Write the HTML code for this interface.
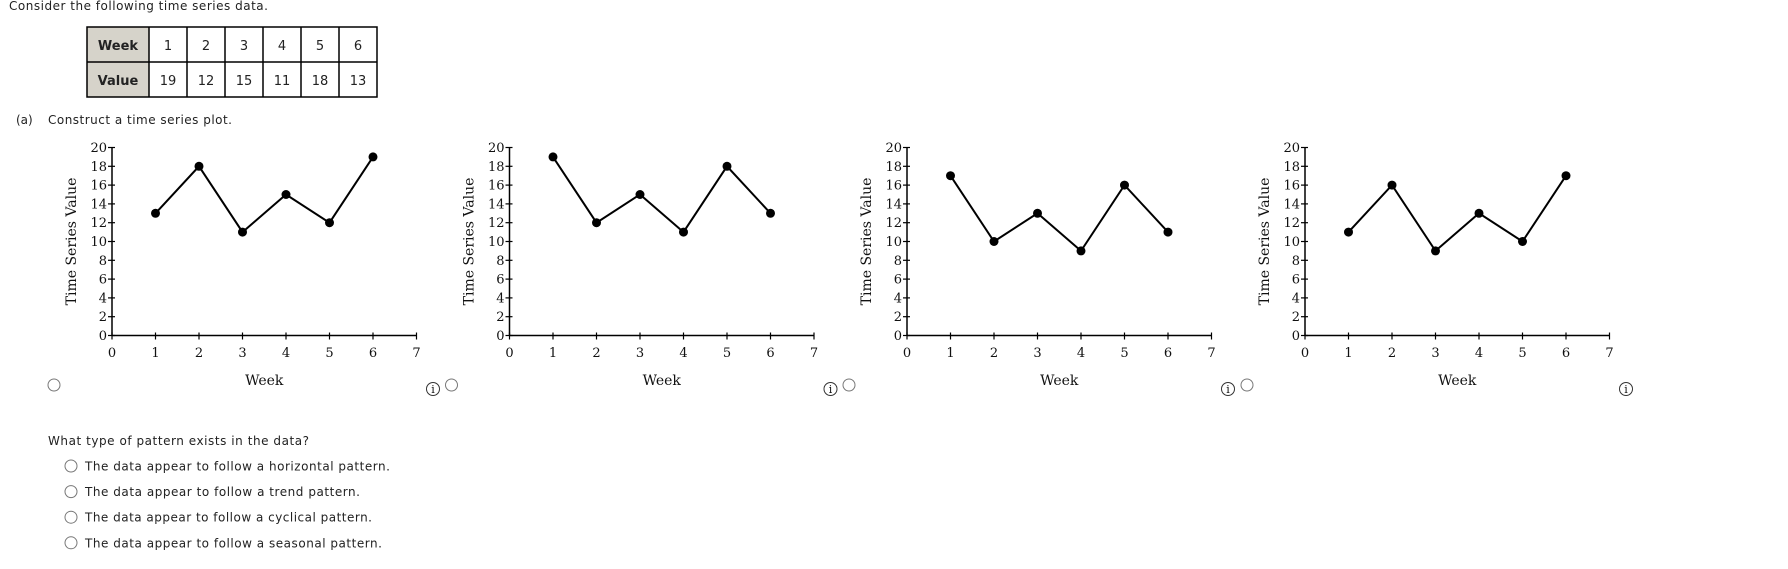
<!DOCTYPE html>
<html><head><meta charset="utf-8"><style>
html,body{margin:0;padding:0;background:#fff;}
svg{display:block}
.s{font-family:"DejaVu Sans","Liberation Sans",sans-serif;font-size:12px;fill:#222}
.t{font-family:"DejaVu Sans","Liberation Sans",sans-serif;font-size:13px;fill:#222}
.r{font-family:"DejaVu Serif","Liberation Serif",serif;fill:#111}
</style></head><body>
<svg id="svg" width="1788" height="569" viewBox="0 0 1788 569" xmlns="http://www.w3.org/2000/svg">
<text class="s" x="9" y="10" textLength="259">Consider the following time series data.</text>
<g>
<rect x="87" y="27" width="62" height="70" fill="#d6d3ca"/>
<rect x="87" y="27" width="290" height="70" fill="none" stroke="#000" stroke-width="1.5"/>
<line x1="87" y1="62" x2="377" y2="62" stroke="#000" stroke-width="1.5"/>
<g id="tcols"></g>
<text class="t" x="118" y="50" text-anchor="middle" font-weight="bold" fill="#444">Week</text>
<text class="t" x="118" y="85" text-anchor="middle" font-weight="bold" fill="#444">Value</text>
</g>
<text class="s" x="16" y="124">(a)</text>
<text class="s" x="48" y="124" textLength="184">Construct a time series plot.</text>
<g id="charts"></g>
<text class="s" x="48" y="445" textLength="261">What type of pattern exists in the data?</text>
<g id="opts"></g>
</svg>
<script>
const weeks=[1,2,3,4,5,6];
const values=[19,12,15,11,18,13];
const series1=[13,18,11,15,12,19];
const series2=[19,12,15,11,18,13];
const series3=[17,10,13,9,16,11];
const series4=[11,16,9,13,10,17];
const yTicks=[0,2,4,6,8,10,12,14,16,18,20];
const xTicks=[0,1,2,3,4,5,6,7];
const options=["The data appear to follow a horizontal pattern.","The data appear to follow a trend pattern.","The data appear to follow a cyclical pattern.","The data appear to follow a seasonal pattern."];
const optionWidths=[305,275,287,297];
const NS="http://www.w3.org/2000/svg";
function mk(tag,attrs,parent,txt){const e=document.createElementNS(NS,tag);for(const k in attrs)e.setAttribute(k,attrs[k]);if(txt!==undefined)e.textContent=txt;parent.appendChild(e);return e;}
const tc=document.getElementById('tcols');
weeks.forEach((w,i)=>{const x=149+i*38;
 mk('line',{x1:x,y1:27,x2:x,y2:97,stroke:'#000','stroke-width':1.5},tc);
 const a=mk('text',{x:x+19,y:50,'text-anchor':'middle',class:'t'},tc,String(w));
 
 
 const b=mk('text',{x:x+19,y:85,'text-anchor':'middle',class:'t'},tc,String(values[i]));
 
 
});
const cg=document.getElementById('charts');
const allSeries=[series1,series2,series3,series4];
const X0=[112,509.5,907,1305];
const yB=335.5,yT=147.5,ux=43.5;
allSeries.forEach((s,ci)=>{
 const x0=X0[ci];
 const g=mk('g',{},cg);
 
 
 const xs=v=>x0+v*ux, ys=v=>yB-(yB-yT)*v/20;
 mk('line',{x1:x0,y1:yB,x2:xs(7),y2:yB,stroke:'#000','stroke-width':1.5},g);
 mk('line',{x1:x0,y1:yB,x2:x0,y2:yT,stroke:'#000','stroke-width':1.5},g);
 yTicks.forEach(t=>{mk('line',{x1:x0-4,y1:ys(t),x2:x0+3,y2:ys(t),stroke:'#000','stroke-width':1.2},g);
  mk('text',{x:x0-5,y:ys(t)+4.5,'text-anchor':'end',class:'r','font-size':13},g,String(t));});
 xTicks.forEach(t=>{mk('line',{x1:xs(t),y1:yB-3,x2:xs(t),y2:yB+4,stroke:'#000','stroke-width':1.2},g);
  mk('text',{x:xs(t),y:357,'text-anchor':'middle',class:'r','font-size':13},g,String(t));});
 mk('text',{x:xs(3.5),y:385,'text-anchor':'middle',class:'r','font-size':14},g,'Week');
 mk('text',{x:0,y:0,transform:`translate(${x0-36},${(yB+yT)/2}) rotate(-90)`,'text-anchor':'middle',class:'r','font-size':14},g,'Time Series Value');
 const pts=s.map((v,i)=>xs(weeks[i])+','+ys(v)).join(' ');
 const pl=mk('polyline',{points:pts,fill:'none',stroke:'#000','stroke-width':2},g);
 
 
 s.forEach((v,i)=>{const c=mk('circle',{cx:xs(weeks[i]),cy:ys(v),r:4.5,fill:'#000'},g);
  
  });
 const rd=mk('circle',{cx:x0-58,cy:385,r:6,fill:'#fff',stroke:'#777','stroke-width':1},cg);
 
 
 const ig=mk('g',{},cg);
 
 
 mk('circle',{cx:x0+321,cy:389,r:6.5,fill:'none',stroke:'#333','stroke-width':1},ig);
 mk('text',{x:x0+321,y:393,'text-anchor':'middle',class:'r','font-size':11},ig,'i');
});
const og=document.getElementById('opts');
options.forEach((o,i)=>{const y=466+i*25.6;
 const c=mk('circle',{cx:71,cy:y,r:6,fill:'#fff',stroke:'#777','stroke-width':1},og);
 
 
 const t=mk('text',{x:85,y:y+4.5,class:'s',textLength:optionWidths[i]},og,o);
 
 
});
</script>
</body></html>
